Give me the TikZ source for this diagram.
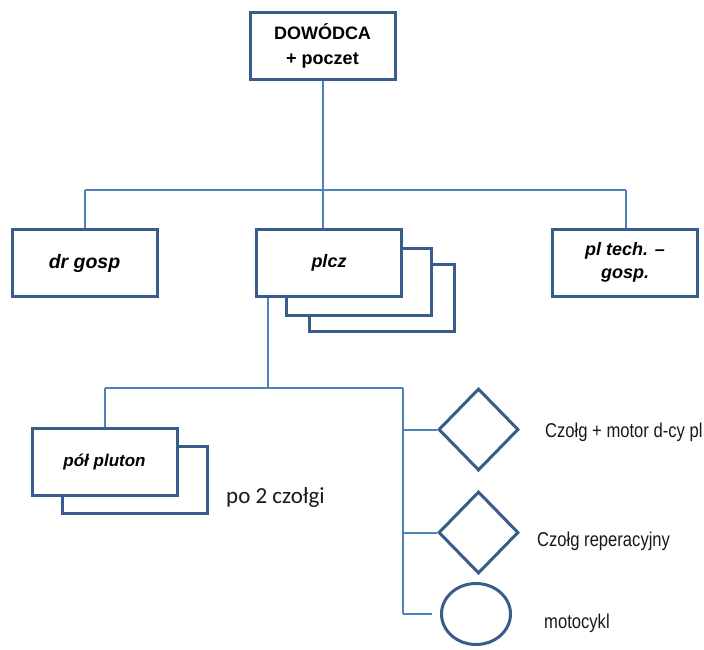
\documentclass[tikz,border=0pt]{standalone}
\usepackage{fontspec}
\setmainfont{Liberation Sans}
\newfontfamily\narrowfont[FakeStretch=0.83]{Liberation Sans}
\newfontfamily\calfont{Carlito}
\usetikzlibrary{shapes.geometric}
\definecolor{boxblue}{RGB}{56,93,138}
\definecolor{lineblue}{RGB}{79,129,189}
\begin{document}
\begin{tikzpicture}[x=1pt,y=-1pt,
	box/.style={draw=boxblue,line width=3pt,fill=white,minimum width=145pt,minimum height=67pt,
		inner sep=0pt,align=center,font=\fontsize{18}{23}\selectfont\bfseries\itshape},
	sign/.style={draw=boxblue,line width=3pt,fill=white,inner sep=0pt},
	conn/.style={draw=lineblue,line width=2pt},
	lbl/.style={anchor=base west,inner sep=0pt,font=\fontsize{20}{24}\narrowfont,text=black!90}]
			\useasboundingbox (0,0) rectangle (704,649);
			% top level
			\node[box,font=\fontsize{18}{25}\selectfont\bfseries] (cmd) at (322.5,46) {DOWÓDCA\\+ poczet};
			\node[box,font=\fontsize{19.5}{23}\selectfont\bfseries\itshape] (drg) at (84.5,263) {dr gosp};
			\foreach \dx/\dy [count=\k] in {52.5/35.5,29.5/19}{
				\node[box] (plcz\k) at (329+\dx,262.5+\dy) {};
			}
			\node[box] (plcz) at (329,262.5) {plcz};
			\node[box] (plt) at (625,262.5) {pl tech. –\\gosp.};
			% lower level
			\node[box] (pol2) at (135,480) {};
			\node[box,font=\fontsize{17}{21}\selectfont\bfseries\itshape] (pol) at (104.5,462) {pół pluton};
			\node[sign,diamond,minimum width=80pt,minimum height=82pt] (czm) at (478.5,429.5) {};
			\node[sign,diamond,minimum width=80pt,minimum height=82pt] (czr) at (478.5,532.5) {};
			\node[sign,ellipse,minimum width=69pt,minimum height=61pt] (moto) at (476,614) {};
			% connectors
			\coordinate (busL) at (85,190);
			\coordinate (busR) at (626,190);
			\draw[conn] (cmd.south) -- (cmd.south |- busL);
			\draw[conn] (busL) -- (busR);
			\draw[conn] (busL) -- (busL |- drg.north);
			\draw[conn] (cmd.south |- busL) -- (cmd.south |- plcz.north);
			\draw[conn] (busR) -- (busR |- plt.north);
			\coordinate (sub) at (268,388);
			\coordinate (subL) at (105,388);
			\coordinate (subR) at (403,388);
			\draw[conn] (sub |- plcz.south) -- (sub);
			\draw[conn] (subL) -- (subR);
			\draw[conn] (subL) -- (subL |- pol.north);
			\draw[conn] (subR) -- (subR |- moto.west);
			\foreach \n in {czm,czr}{
				\draw[conn] (subR |- \n.west) -- (\n.west);
			}
			\draw[conn] (subR |- moto.west) -- ([xshift=-8pt]moto.west);
			% labels
			\node[lbl] (czmlbl) at (545,437) {Czołg + motor d-cy pl};
			\node[lbl] (czrlbl) at (537,546) {Czołg reperacyjny};
			\node[lbl] (motolbl) at (544,628) {motocykl};
			\node[lbl,font=\fontsize{23}{27}\calfont] (po2) at (226,503) {po 2 czołgi};
		\end{tikzpicture}
\end{document}
